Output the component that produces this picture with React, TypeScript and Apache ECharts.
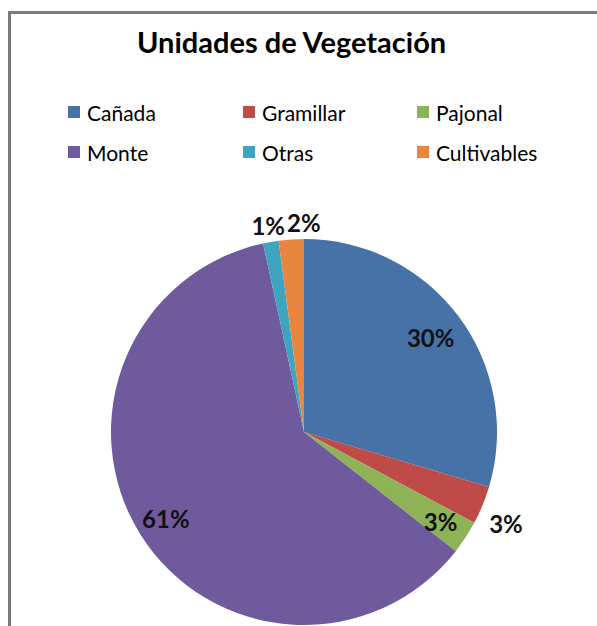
import React, { useEffect, useRef } from "react";
import * as echarts from "echarts";

const titleText = "Unidades de Vegetación";
const categories = ["Cañada", "Gramillar", "Pajonal", "Monte", "Otras", "Cultivables"];
const values = [29.6, 3.2, 2.8, 61.0, 1.3, 2.1];
const colors = ["#4672A8", "#BE4B48", "#8DB356", "#6E5A9C", "#3FA4BE", "#E8853F"];
const legendColumns = [
  ["Cañada", "Monte"],
  ["Gramillar", "Otras"],
  ["Pajonal", "Cultivables"],
];
const outerLabelNames = ["Gramillar", "Otras", "Cultivables"];

const FONT = "Lato, 'Open Sans', sans-serif";

export default function App() {
  const ref = useRef<HTMLDivElement>(null);

  useEffect(() => {
    if (!ref.current) return;
    const chart = echarts.init(ref.current, undefined, { renderer: "svg" });

    const center = [304, 432];
    const labelOffsets: Record<string, number[]> = {
      Gramillar: [4, 10],
      Otras: [1, 4],
      Cultivables: [14, 4],
      "Cañada": [-4, 3],
    };

    const labelStyle = {
      position: "inside",
      formatter: "{d}%",
      fontSize: 24,
      fontWeight: "bold",
      fontFamily: FONT,
      color: "#111",
    };

    const mainData = categories.map((name, i) => ({
      name,
      value: values[i],
      itemStyle: { color: colors[i] },
    }));

    const labelData = (outer: boolean) =>
      categories.map((name, i) => {
        const isOuter = outerLabelNames.includes(name);
        return {
          name,
          value: values[i],
          itemStyle: { color: "rgba(0,0,0,0)" },
          label: {
            show: outer ? isOuter : !isOuter,
            offset: labelOffsets[name] || [0, 0],
          },
        };
      });

    const option: any = {
      animation: false,
      backgroundColor: "#fff",
      title: {
        text: titleText,
        left: 132,
        top: 22,
        textStyle: {
          fontFamily: FONT,
          fontSize: 29,
          fontWeight: "bold",
          color: "#000",
        },
      },
      graphic: [
        {
          type: "rect",
          z: -10,
          shape: { x: 9.5, y: 12.5, width: 800, height: 800 },
          style: { fill: "none", stroke: "#7a7a7a", lineWidth: 3 },
          silent: true,
        },
      ],
      legend: legendColumns.map((col, i) => ({
        data: col,
        orient: "vertical",
        left: [63, 238, 412][i],
        top: 96,
        icon: "rect",
        itemWidth: 12,
        itemHeight: 12,
        itemGap: 18,
        selectedMode: false,
        textStyle: {
          fontFamily: FONT,
          fontSize: 21,
          color: "#000",
          lineHeight: 22,
          padding: [0, 0, 0, 2],
        },
      })),
      series: [
        {
          type: "pie",
          center,
          radius: 193,
          startAngle: 90,
          clockwise: true,
          silent: true,
          label: { show: false },
          labelLine: { show: false },
          data: mainData,
        },
        {
          type: "pie",
          center,
          radius: [127, 193],
          startAngle: 90,
          clockwise: true,
          silent: true,
          percentPrecision: 0,
          avoidLabelOverlap: false,
          label: labelStyle,
          labelLine: { show: false },
          data: labelData(false),
        },
        {
          type: "pie",
          center,
          radius: [185, 237],
          startAngle: 90,
          clockwise: true,
          silent: true,
          percentPrecision: 0,
          avoidLabelOverlap: false,
          label: labelStyle,
          labelLine: { show: false },
          data: labelData(true),
        },
      ],
    };

    chart.setOption(option);
    return () => chart.dispose();
  }, []);

  return (
    <div
      ref={ref}
      style={{ position: "absolute", left: 0, top: 0, width: 597, height: 626 }}
    />
  );
}
